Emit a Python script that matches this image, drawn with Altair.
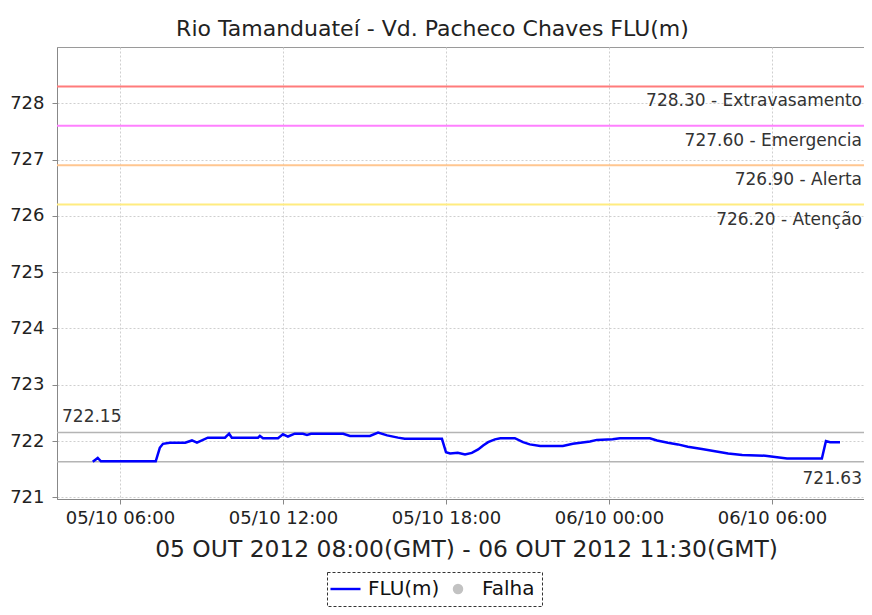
import altair as alt
import pandas as pd

# ---------------- data ----------------
hora = [
    "2012-10-05T05:00", "2012-10-05T05:11", "2012-10-05T05:18", "2012-10-05T07:19",
    "2012-10-05T07:28", "2012-10-05T07:35", "2012-10-05T07:50", "2012-10-05T08:24",
    "2012-10-05T08:39", "2012-10-05T08:50", "2012-10-05T09:14", "2012-10-05T09:52",
    "2012-10-05T10:01", "2012-10-05T10:07", "2012-10-05T11:05", "2012-10-05T11:09",
    "2012-10-05T11:16", "2012-10-05T11:49", "2012-10-05T12:00", "2012-10-05T12:11",
    "2012-10-05T12:26", "2012-10-05T12:44", "2012-10-05T12:53", "2012-10-05T13:02",
    "2012-10-05T14:13", "2012-10-05T14:28", "2012-10-05T15:12", "2012-10-05T15:30",
    "2012-10-05T15:50", "2012-10-05T16:14", "2012-10-05T16:29", "2012-10-05T17:51",
    "2012-10-05T18:00", "2012-10-05T18:09", "2012-10-05T18:26", "2012-10-05T18:42",
    "2012-10-05T18:57", "2012-10-05T19:11", "2012-10-05T19:22", "2012-10-05T19:33",
    "2012-10-05T19:48", "2012-10-05T20:00", "2012-10-05T20:32", "2012-10-05T20:50",
    "2012-10-05T21:05", "2012-10-05T21:28", "2012-10-05T22:18", "2012-10-05T22:40",
    "2012-10-05T23:18", "2012-10-05T23:33", "2012-10-06T00:08", "2012-10-06T00:24",
    "2012-10-06T01:30", "2012-10-06T01:46", "2012-10-06T02:10", "2012-10-06T02:32",
    "2012-10-06T02:54", "2012-10-06T03:25", "2012-10-06T03:54", "2012-10-06T04:23",
    "2012-10-06T04:54", "2012-10-06T05:45", "2012-10-06T06:33", "2012-10-06T07:50",
    "2012-10-06T07:59", "2012-10-06T08:08", "2012-10-06T08:30",
]
nivel = [
    721.63, 721.70, 721.64, 721.64,
    721.88, 721.95, 721.97, 721.97,
    722.01, 721.97, 722.06, 722.06,
    722.13, 722.06, 722.06, 722.09,
    722.05, 722.05, 722.12, 722.08,
    722.13, 722.13, 722.11, 722.13,
    722.13, 722.09, 722.09, 722.15,
    722.10, 722.06, 722.04, 722.04,
    721.80, 721.78, 721.79, 721.76,
    721.79, 721.85, 721.92, 721.98,
    722.03, 722.05, 722.05, 721.98,
    721.94, 721.91, 721.91, 721.95,
    721.99, 722.02, 722.03, 722.05,
    722.05, 722.01, 721.97, 721.94,
    721.90, 721.86, 721.82, 721.78,
    721.75, 721.74, 721.69, 721.69,
    722.00, 721.98, 721.98,
]

cotas = [728.30, 727.60, 726.90, 726.20]
cotas_nome = ["Extravasamento", "Emergencia", "Alerta", "Atenção"]
cotas_cor = ["#ff7b7b", "#ff80ff", "#ffc690", "#ffec80"]

maximo = 722.15
minimo = 721.63

y_ticks = [721, 722, 723, 724, 725, 726, 727, 728]
titulo = "Rio Tamanduateí - Vd. Pacheco Chaves FLU(m)"
titulo_x = "05 OUT 2012 08:00(GMT) - 06 OUT 2012 11:30(GMT)"
serie_nome = "FLU(m)"
legenda = ["FLU(m)", "Falha"]
legenda_cor = ["#0000ff", "#c2c2c2"]
# legend symbols: a thin filled bar for the line series, a filled dot for "Falha"
legenda_forma = ["M-2.46,-0.22L3.0,-0.22L3.0,0.22L-2.46,0.22Z", "circle"]
legenda_tam = [121, 110]

# ---------------- tables ----------------
df = pd.DataFrame({"hora": [h + ":00Z" for h in hora], "nivel": nivel, "serie": serie_nome})
df_cotas = pd.DataFrame({
    "nivel": cotas,
    "nome": cotas_nome,
    "rotulo": [f"{v:.2f} - {n}" for v, n in zip(cotas, cotas_nome)],
})
df_max = pd.DataFrame({"nivel": [maximo], "rotulo": [f"{maximo:.2f}"]})
df_min = pd.DataFrame({"nivel": [minimo], "rotulo": [f"{minimo:.2f}"]})
df_ext = pd.concat([df_max, df_min], ignore_index=True)

W, H = 807, 452
FONT = "DejaVu Sans"


def dt(day, hh, mm=0):
    return alt.DateTime(year=2012, month=10, date=day, hours=hh, minutes=mm, utc=True)


x_scale = alt.Scale(type="utc", domain=[dt(5, 3, 41), dt(6, 9, 23)])
x_axis = alt.Axis(
    values=[dt(5, 6), dt(5, 12), dt(5, 18), dt(6, 0), dt(6, 6)],
    labelExpr="utcFormat(datum.value, '%d/%m %H:%M')",
    title=titulo_x,
    titleFont=FONT,
    titleFontSize=23.4,
    titleFontWeight="normal",
    titleColor="#222",
    titlePadding=11,
    titleX=409,
    titleAlign="center",
    labelFont=FONT,
    labelFontSize=18,
    labelColor="#222",
    labelPadding=5,
    tickSize=5,
    labelFlush=False,
)
y_scale = alt.Scale(domain=[720.97, 729.0], nice=False, zero=False)
y_axis = alt.Axis(
    values=y_ticks,
    format="d",
    title=None,
    labelFont=FONT,
    labelFontSize=18,
    labelColor="#222",
    labelPadding=8,
    tickSize=5,
)


def y_enc():
    return alt.Y("nivel:Q", scale=y_scale, axis=y_axis)


def x_enc():
    return alt.X("hora:T", scale=x_scale, axis=x_axis)


regras = alt.Chart(df_cotas).mark_rule(strokeWidth=2).encode(
    y=y_enc(),
    stroke=alt.Stroke("nome:N", scale=alt.Scale(domain=cotas_nome, range=cotas_cor), legend=None),
)
rotulos = alt.Chart(df_cotas).mark_text(
    align="right", baseline="middle", dy=15, font=FONT, fontSize=17, color="#333"
).encode(y=y_enc(), x=alt.value(W - 2), text="rotulo:N")

ext_regras = alt.Chart(df_ext).mark_rule(strokeWidth=1.5, color="#b4b4b4").encode(y=y_enc())
rot_max = alt.Chart(df_max).mark_text(
    align="left", baseline="middle", dy=-16, font=FONT, fontSize=17, color="#333"
).encode(y=y_enc(), x=alt.value(5), text="rotulo:N")
rot_min = alt.Chart(df_min).mark_text(
    align="right", baseline="middle", dy=17, font=FONT, fontSize=17, color="#333"
).encode(y=y_enc(), x=alt.value(W - 2), text="rotulo:N")

linha = alt.Chart(df).mark_line(strokeWidth=2.5, interpolate="linear", color="#0000ff").encode(
    x=x_enc(), y=y_enc()
)

leg = alt.Legend(
    title=None,
    orient="none",
    direction="horizontal",
    legendX=270,
    legendY=525,
    strokeColor="#333",
    padding=7,
    labelFont=FONT,
    labelFontSize=20,
    labelColor="#111",
    labelOffset=14,
    columnPadding=8,
    symbolStrokeWidth=0,
)

# legend-only layer (no rows drawn): defines the "FLU(m)" / "Falha" legend entries
legenda_layer = alt.Chart(df).transform_filter("false").mark_point(filled=True, opacity=1).encode(
    x=x_enc(),
    y=y_enc(),
    color=alt.Color("serie:N", scale=alt.Scale(domain=legenda, range=legenda_cor), legend=leg),
    shape=alt.Shape("serie:N", scale=alt.Scale(domain=legenda, range=legenda_forma), legend=leg),
    size=alt.Size("serie:N", scale=alt.Scale(domain=legenda, range=legenda_tam), legend=leg),
)

chart = (
    alt.layer(regras, rotulos, ext_regras, rot_max, rot_min, linha, legenda_layer)
    .properties(
        width=W,
        height=H,
        title=alt.TitleParams(
            titulo, font=FONT, fontSize=22, fontWeight="normal", color="#222",
            anchor="middle", dx=-28, offset=6,
        ),
        autosize=alt.AutoSizeParams(type="none"),
        padding={"left": 49, "top": 39, "right": 0, "bottom": 108},
    )
    .configure_view(stroke="#9a9a9a", strokeWidth=1)
    .configure_axis(
        domainColor="#888",
        tickColor="#888",
        gridColor="#cfcfcf",
        gridDash=[2, 2],
        gridWidth=1,
    )
    .configure_legend(strokeDash=[3, 2])
)

chart.save("out.html", embed_options={"renderer": "svg", "actions": False})
